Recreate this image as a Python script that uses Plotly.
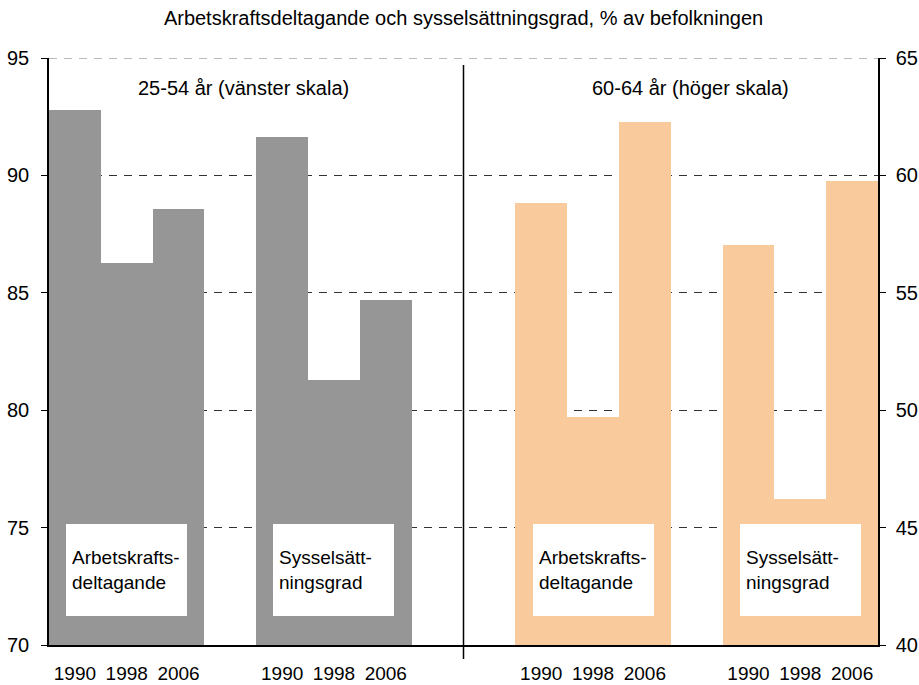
import plotly.graph_objects as go

# Data
years = ["1990", "1998", "2006"]
left_akd = [92.77, 86.29, 88.55]      # 25-54 år, Arbetskraftsdeltagande (vänster skala)
left_syss = [91.63, 81.28, 84.69]     # 25-54 år, Sysselsättningsgrad (vänster skala)
right_akd = [58.82, 49.71, 62.27]     # 60-64 år, Arbetskraftsdeltagande (höger skala)
right_syss = [57.03, 46.2, 59.76]     # 60-64 år, Sysselsättningsgrad (höger skala)
group_labels = ["Arbetskrafts-<br>deltagande", "Sysselsätt-<br>ningsgrad",
                "Arbetskrafts-<br>deltagande", "Sysselsätt-<br>ningsgrad"]
title = "Arbetskraftsdeltagande och sysselsättningsgrad, % av befolkningen"
sub_left = "25-54 år (vänster skala)"
sub_right = "60-64 år (höger skala)"
left_ticks = [70, 75, 80, 85, 90, 95]
right_ticks = [40, 45, 50, 55, 60, 65]
left_base = 70
right_base = 40

# slot positions of the bars (16 slots across)
pos_left = [0, 1, 2, 4, 5, 6]
pos_right = [9, 10, 11, 13, 14, 15]
group_centers = [1, 5, 10, 14]

FONT = "Liberation Sans, Arial, sans-serif"
FS = 20
GRID = dict(color="#333333", width=1.2, dash="8px,7px")

fig = go.Figure()
fig.add_trace(go.Bar(x=pos_left, y=[v - left_base for v in left_akd + left_syss],
                     base=left_base, width=1,
                     marker=dict(color="#969696", line=dict(width=0)),
                     yaxis="y", showlegend=False))
fig.add_trace(go.Bar(x=pos_right, y=[v - right_base for v in right_akd + right_syss],
                     base=right_base, width=1,
                     marker=dict(color="#F9CB9C", line=dict(width=0)),
                     yaxis="y2", showlegend=False))

for xc, lab in zip(group_centers, group_labels):
    fig.add_annotation(x=xc, xref="x", y=0.128, yref="paper",
                       text=lab, showarrow=False, align="left",
                       xanchor="center", yanchor="middle",
                       width=109, height=80, borderpad=6, borderwidth=0,
                       bgcolor="white", font=dict(family=FONT, size=19, color="black"))

fig.add_annotation(x=0.235, xref="paper", y=0.949, yref="paper", text=sub_left,
                   xanchor="center", yanchor="middle",
                   showarrow=False, font=dict(family=FONT, size=FS, color="black"))
fig.add_annotation(x=0.774, xref="paper", y=0.949, yref="paper", text=sub_right,
                   xanchor="center", yanchor="middle",
                   showarrow=False, font=dict(family=FONT, size=FS, color="black"))

# top gridline at the upper end of the left scale
fig.add_shape(type="line", xref="paper", yref="y", x0=0, x1=1,
              y0=left_ticks[-1], y1=left_ticks[-1], layer="below",
              line=dict(color="#777777", width=1.2, dash="8px,7px"))

fig.add_shape(type="line", xref="x", yref="paper", x0=7.5, x1=7.5, y0=-0.024, y1=0.988,
              line=dict(color="black", width=1.5))

fig.update_layout(
    width=919, height=685,
    margin=dict(l=49, r=41, t=58, b=40, autoexpand=False),
    paper_bgcolor="white", plot_bgcolor="white",
    barmode="overlay", bargap=0,
    font=dict(family=FONT, size=FS, color="black"),
    title=dict(text=title, x=0.5, xref="paper", y=1 - 18 / 685, yref="container",
               xanchor="center", yanchor="middle",
               font=dict(family=FONT, size=FS, color="black")),
    xaxis=dict(range=[-0.5, 15.5], tickmode="array",
               tickvals=pos_left + pos_right, ticktext=years * 4,
               showline=True, linecolor="black", linewidth=1.5,
               ticks="outside", ticklen=10, tickcolor="rgba(0,0,0,0)",
               showgrid=False, zeroline=False, automargin=False,
               tickfont=dict(family=FONT, size=19, color="black")),
    yaxis=dict(range=[70, 95], tickmode="array", tickvals=left_ticks,
               showline=True, linecolor="black", linewidth=1.5,
               ticks="outside", ticklen=6, tickcolor="black",
               ticklabelstandoff=8, automargin=False,
               showgrid=True, gridcolor=GRID["color"], griddash=GRID["dash"],
               gridwidth=GRID["width"],
               zeroline=False, tickfont=dict(family=FONT, size=FS, color="black")),
    yaxis2=dict(range=[40, 65], tickmode="array", tickvals=right_ticks,
                overlaying="y", side="right",
                showline=True, linecolor="black", linewidth=1.5,
                ticks="outside", ticklen=6, tickcolor="black",
                ticklabelstandoff=6, automargin=False,
                showgrid=False, zeroline=False,
                tickfont=dict(family=FONT, size=FS, color="black")),
)

fig.write_html("out.html", config={"displayModeBar": False},
               post_script="document.body.style.margin='0';document.body.style.overflow='hidden';")
